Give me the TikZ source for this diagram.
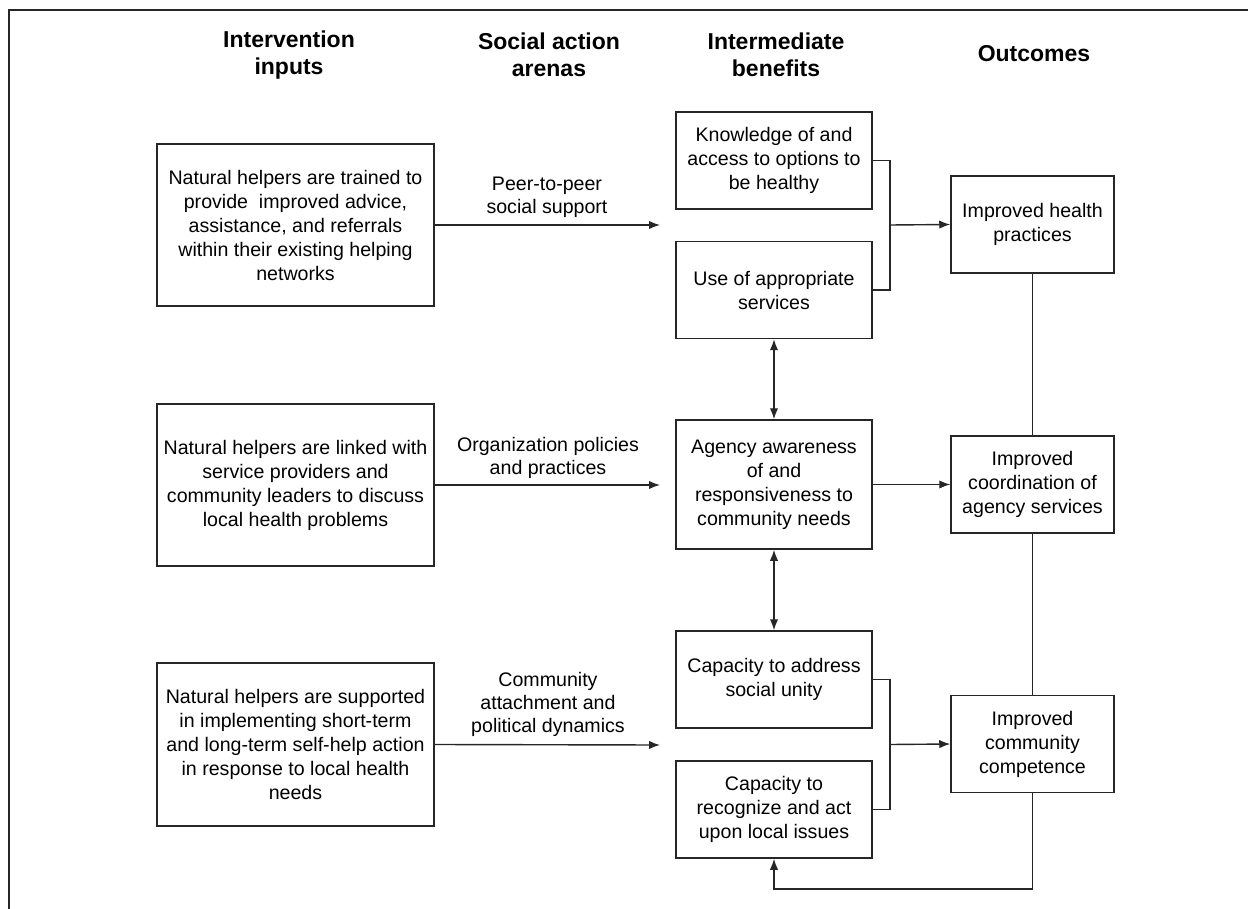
\documentclass[tikz,border=0pt]{standalone}
\usepackage{fontspec}
\setmainfont{Liberation Sans}
\usetikzlibrary{arrows.meta}
\tikzset{
  box/.style={draw=black!85, line width=0.75pt, align=center, inner sep=0pt, font=\fontsize{9.8}{12}\selectfont},
  inbox/.style={box, minimum width=138.5pt, minimum height=81pt},
  midbox/.style={box, minimum width=98pt, minimum height=48.5pt},
  outbox/.style={box, minimum width=81.5pt, minimum height=48.5pt},
  head/.style={align=center, font=\fontsize{11.5}{13.5}\selectfont\bfseries},
  lab/.style={align=center, font=\fontsize{9.8}{11.5}\selectfont},
  con/.style={draw=black!85, line width=0.7pt},
  arr/.style={con, -{Latex[length=5.5pt,width=4.2pt]}},
  darr/.style={con, {Latex[length=5.5pt,width=4.2pt]}-{Latex[length=5.5pt,width=4.2pt]}}
}
\begin{document}
\begin{tikzpicture}[x=0.5pt,y=-0.5pt]
    \useasboundingbox (0,0) rectangle (1248,909);
    \draw[draw=black!85, line width=0.75pt] (9,909) -- (9,10) -- (1248,10);
    % column headings
    \node[head] (hin) at (289,55) {Intervention\\inputs};
    \node[head] (hsa) at (549,55) {Social action\\arenas};
    \node[head] (hib) at (776,55) {Intermediate\\benefits};
    \node[head] (hout) at (1034,54) {Outcomes};
    % inputs
    \node[inbox] (in1) at (295.5,225) {Natural helpers are trained to\\provide \ improved advice,\\assistance, and referrals\\within their existing helping\\networks};
    \node[inbox] (in2) at (295.5,485) {Natural helpers are linked with\\service providers and\\community leaders to discuss\\local health problems};
    \node[inbox, minimum height=81.5pt] (in3) at (295.5,744.5) {Natural helpers are supported\\in implementing short-term\\and long-term self-help action\\in response to local health\\needs};
    % benefits
    \node[midbox] (know) at (774,160.5) {Knowledge of and\\access to options to\\be healthy};
    \node[midbox] (use) at (774,290) {Use of appropriate\\services};
    \node[midbox, minimum height=64.5pt] (agency) at (774,484.5) {Agency awareness\\of and\\responsiveness to\\community needs};
    \node[midbox] (unity) at (774,679.5) {Capacity to address\\social unity};
    \node[midbox] (issues) at (774,809.5) {Capacity to\\recognize and act\\upon local issues};
    % outcomes
    \node[outbox] (health) at (1032.5,224.5) {Improved health\\practices};
    \node[outbox] (coord) at (1032.5,484.5) {Improved\\coordination of\\agency services};
    \node[outbox] (comp) at (1032.5,744) {Improved\\community\\competence};
    % arenas
    \coordinate (a1) at (660,225);
    \coordinate (a2) at (660,485);
    \coordinate (a3) at (660,745);
    \node[lab] (peer) at (547,197) {Peer-to-peer\\social support};
    \node[lab] (org) at (548,458) {Organization policies\\and practices};
    \node[lab] (att) at (548,704) {Community\\attachment and\\political dynamics};
    \foreach \i in {1,2,3} \draw[arr] (in\i.east) -- (a\i);
    % joins
    \coordinate (j1) at (890,225);
    \coordinate (j2) at (890,744.5);
    \draw[con] (know.east) -| (j1) |- (use.east);
    \draw[con] (unity.east) -| (j2) |- (issues.east);
    \draw[arr] (j1) -- (health.west);
    \draw[arr] (j2) -- (comp.west);
    \draw[arr] (agency.east) -- (coord.west);
    \draw[darr] (use.south) -- (agency.north);
    \draw[darr] (agency.south) -- (unity.north);
    \draw[con] (health.south) -- (coord.north);
    \draw[con] (coord.south) -- (comp.north);
    \coordinate (back) at (1032.5,889);
    \draw[arr] (comp.south) -- (back) -| (issues.south);
\end{tikzpicture}
\end{document}
